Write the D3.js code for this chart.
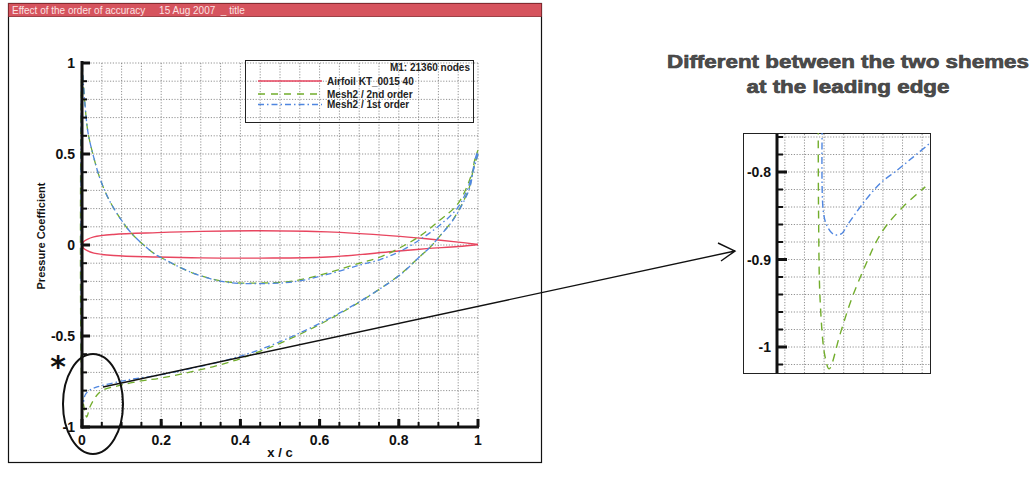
<!DOCTYPE html>
<html>
<head>
<meta charset="utf-8">
<script src="https://cdn.jsdelivr.net/npm/d3@7"></script>
<style>
  body { margin: 0; background: #fff; }
  svg text { font-family: "Liberation Sans", Arial, sans-serif; }
</style>
</head>
<body>
<svg width="1035" height="482"></svg>
<script>

// ---- data ----

var xTicks = [0, 0.2, 0.4, 0.6, 0.8, 1];
var xTickLabels = ['0', '0.2', '0.4', '0.6', '0.8', '1'];
var yTicks = [-1, -0.5, 0, 0.5, 1];
var yTickLabels = ['-1', '-0.5', '0', '0.5', '1'];

// airfoil outline (plotted on the same axes)
var foilX     = [0, 0.004, 0.012, 0.03, 0.08, 0.19, 0.30, 0.45, 0.62, 0.785, 0.87, 0.95, 1.0];
var foilUpper = [0, 0.018, 0.03, 0.045, 0.058, 0.068, 0.075, 0.078, 0.072, 0.05, 0.034, 0.016, 0.003];
var foilLower = [0, -0.018, -0.03, -0.045, -0.058, -0.066, -0.071, -0.072, -0.066, -0.036, -0.02, -0.008, 0.003];

// Mesh2 / 2nd order
var upperX2   = [0, 0.003, 0.0076, 0.015, 0.028, 0.045, 0.066, 0.096, 0.129, 0.184, 0.197, 0.28, 0.366, 0.449, 0.533, 0.619, 0.702, 0.753, 0.803, 0.854, 0.904, 0.947, 0.972, 0.987, 1.0];
var upperCp2  = [1.0, 0.90, 0.77, 0.62, 0.495, 0.368, 0.258, 0.148, 0.055, -0.05, -0.066, -0.154, -0.203, -0.209, -0.198, -0.154, -0.099, -0.066, -0.015, 0.05, 0.137, 0.22, 0.32, 0.41, 0.5];
var lowerX2   = [0, 0.006, 0.012, 0.02, 0.038, 0.053, 0.088, 0.154, 0.197, 0.28, 0.366, 0.449, 0.533, 0.619, 0.702, 0.753, 0.803, 0.854, 0.879, 0.904, 0.937, 0.962, 0.98, 0.992, 1.0];
var lowerCp2  = [-0.80, -0.90, -0.945, -0.89, -0.824, -0.797, -0.775, -0.745, -0.732, -0.695, -0.648, -0.585, -0.508, -0.415, -0.312, -0.24, -0.163, -0.062, -0.012, 0.05, 0.14, 0.235, 0.33, 0.47, 0.52];

// Mesh2 / 1st order
var upperX1   = [0, 0.003, 0.0076, 0.015, 0.028, 0.045, 0.066, 0.096, 0.129, 0.184, 0.197, 0.28, 0.366, 0.449, 0.533, 0.619, 0.702, 0.753, 0.803, 0.854, 0.904, 0.947, 0.972, 0.987, 1.0];
var upperCp1  = [1.0, 0.90, 0.77, 0.62, 0.495, 0.368, 0.258, 0.148, 0.055, -0.05, -0.066, -0.154, -0.205, -0.212, -0.203, -0.162, -0.11, -0.08, -0.035, 0.03, 0.11, 0.2, 0.3, 0.4, 0.5];
var lowerX1   = [0, 0.003, 0.008, 0.02, 0.038, 0.114, 0.197, 0.28, 0.366, 0.449, 0.533, 0.619, 0.702, 0.753, 0.803, 0.854, 0.879, 0.904, 0.937, 0.962, 0.98, 0.992, 1.0];
var lowerCp1  = [-0.76, -0.87, -0.824, -0.797, -0.78, -0.742, -0.714, -0.676, -0.632, -0.575, -0.5, -0.41, -0.31, -0.24, -0.165, -0.062, -0.012, 0.05, 0.137, 0.23, 0.32, 0.467, 0.52];

// zoom on the leading edge
var insetYTicks = [-0.8, -0.9, -1];
var insetYTickLabels = ['-0.8', '-0.9', '-1'];
var insetX2  = [0.0085, 0.0086, 0.0090, 0.0102, 0.0113, 0.0141, 0.0171, 0.0210, 0.0235, 0.0261, 0.0301, 0.0337, 0.0358];
var insetCp2 = [-0.70, -0.85, -0.947, -1.01, -1.025, -0.985, -0.944, -0.902, -0.878, -0.86, -0.84, -0.825, -0.817];
var insetX1  = [0.0097, 0.0098, 0.0108, 0.0123, 0.0133, 0.0146, 0.0159, 0.0199, 0.0243, 0.0286, 0.0327, 0.037];
var insetCp1 = [-0.70, -0.845, -0.862, -0.871, -0.872, -0.870, -0.861, -0.836, -0.813, -0.798, -0.783, -0.767];

var legendLabels = ['Airfoil KT_0015 40', 'Mesh2 / 2nd order', 'Mesh2 / 1st order'];

var RED = '#e8455f', GREEN = '#72ad2c', BLUE = '#4f86e0';


var svg = d3.select('body svg');

/*
	frame + title bar
*/
svg.append('rect')
	.attr('x', 8.5).attr('y', 3.5).attr('width', 533).attr('height', 459)
	.style('fill', 'none').style('stroke', '#111').style('stroke-width', 1.2);

svg.append('rect')
	.attr('x', 8.5).attr('y', 3.5).attr('width', 533).attr('height', 13)
	.style('fill', '#d6545e').style('stroke', '#8a2a30').style('stroke-width', 0.8);

svg.append('text')
	.attr('x', 12).attr('y', 13.8)
	.style('font-size', '10px').style('fill', '#fbe3e3')
	.style('white-space', 'pre')
	.text('Effect of the order of accuracy     15 Aug 2007  _ title');

/*
	main plot
*/
var x = d3.scaleLinear().domain([0, 1]).range([82, 478]);
var y = d3.scaleLinear().domain([-1, 1]).range([427, 63]);

var grid = svg.append('g').classed('grid', true)
	.style('stroke', '#777').style('stroke-width', 0.8).style('stroke-dasharray', '1.2,1.6');

grid.selectAll('.gx').data(d3.range(1, 21).map(function (i) { return i * 0.05; }))
	.enter().append('line')
	.attr('x1', function (d) { return x(d); }).attr('x2', function (d) { return x(d); })
	.attr('y1', y(1)).attr('y2', y(-1));

grid.selectAll('.gy').data(d3.range(-9, 11).map(function (i) { return i / 10; }))
	.enter().append('line')
	.attr('x1', x(0)).attr('x2', x(1))
	.attr('y1', function (d) { return y(d); }).attr('y2', function (d) { return y(d); });

// legend box (transparent, grid shows through)
var legend = svg.append('g').classed('legend', true);
legend.append('rect')
	.attr('x', 245.5).attr('y', 60.5).attr('width', 228).attr('height', 62)
	.style('fill', 'none').style('stroke', '#222').style('stroke-width', 1);

legend.append('text')
	.attr('x', 470).attr('y', 70.5).attr('text-anchor', 'end')
	.style('font-family', '"Liberation Sans Narrow", "Liberation Sans", sans-serif')
	.style('font-weight', 'bold').style('font-size', '10px').style('fill', '#222')
	.text('M1: 21360 nodes');

var legendStyles = [
	{ c: RED, dash: null },
	{ c: GREEN, dash: '7,6' },
	{ c: BLUE, dash: '6,3,1.5,3' }
];
var legendRows = [81, 94, 104.5];

legendLabels.forEach(function (lab, i) {
	legend.append('line')
		.attr('x1', 258).attr('x2', 322)
		.attr('y1', legendRows[i]).attr('y2', legendRows[i])
		.style('stroke', legendStyles[i].c).style('stroke-width', 1.4)
		.style('stroke-dasharray', legendStyles[i].dash);
	legend.append('text')
		.attr('x', 327).attr('y', legendRows[i] + 3.5)
		.style('font-family', '"Liberation Sans Narrow", "Liberation Sans", sans-serif')
		.style('font-weight', 'bold').style('font-size', '10px').style('fill', '#222')
		.text(lab);
});

/*
	curves
*/
var line = d3.line()
	.curve(d3.curveCatmullRom.alpha(0.5))
	.x(function (d) { return x(d[0]); })
	.y(function (d) { return y(d[1]); });

function loop(ux, ucp, lx, lcp) {
	var up = d3.zip(ux, ucp).reverse();
	return up.concat(d3.zip(lx, lcp));
}

svg.append('path').attr('d', line(d3.zip(foilX, foilUpper)))
	.style('fill', 'none').style('stroke', RED).style('stroke-width', 1.4);
svg.append('path').attr('d', line(d3.zip(foilX, foilLower)))
	.style('fill', 'none').style('stroke', RED).style('stroke-width', 1.4);

svg.append('path').attr('d', line(loop(upperX2, upperCp2, lowerX2, lowerCp2)))
	.style('fill', 'none').style('stroke', GREEN).style('stroke-width', 1.3)
	.style('stroke-dasharray', '7,5');

svg.append('path').attr('d', line(loop(upperX1, upperCp1, lowerX1, lowerCp1)))
	.style('fill', 'none').style('stroke', BLUE).style('stroke-width', 1.3)
	.style('stroke-dasharray', '6,3,1.5,3');

/*
	axes
*/
var axes = svg.append('g').style('stroke', '#111');

axes.append('line').attr('x1', x(0)).attr('x2', x(0)).attr('y1', y(1) - 2).attr('y2', y(-1) + 1.5)
	.style('stroke-width', 3);
axes.append('line').attr('x1', x(0) - 1.5).attr('x2', x(1) + 1).attr('y1', y(-1)).attr('y2', y(-1))
	.style('stroke-width', 3);

// y ticks: minor every 0.1, major every 0.5
axes.selectAll('.ytm').data(d3.range(-10, 11).map(function (i) { return i / 10; }))
	.enter().append('line')
	.attr('x1', x(0)).attr('x2', x(0) + 5)
	.attr('y1', function (d) { return y(d); }).attr('y2', function (d) { return y(d); })
	.style('stroke-width', 2);
axes.selectAll('.ytM').data(yTicks)
	.enter().append('line')
	.attr('x1', x(0)).attr('x2', x(0) + 8)
	.attr('y1', function (d) { return y(d); }).attr('y2', function (d) { return y(d); })
	.style('stroke-width', 3);

// x ticks: minor every 0.05, major every 0.2
axes.selectAll('.xtm').data(d3.range(0, 21).map(function (i) { return i * 0.05; }))
	.enter().append('line')
	.attr('x1', function (d) { return x(d); }).attr('x2', function (d) { return x(d); })
	.attr('y1', y(-1)).attr('y2', y(-1) - 5)
	.style('stroke-width', 2);
axes.selectAll('.xtM').data(xTicks)
	.enter().append('line')
	.attr('x1', function (d) { return x(d); }).attr('x2', function (d) { return x(d); })
	.attr('y1', y(-1)).attr('y2', y(-1) - 8)
	.style('stroke-width', 3);

svg.selectAll('.ylab').data(yTicks)
	.enter().append('text')
	.attr('x', 75).attr('y', function (d) { return y(d) + 5; })
	.attr('text-anchor', 'end')
	.style('font-weight', 'bold').style('font-size', '14px').style('fill', '#111')
	.text(function (d, i) { return yTickLabels[i]; });

svg.selectAll('.xlab').data(xTicks)
	.enter().append('text')
	.attr('x', function (d) { return x(d); }).attr('y', 445)
	.attr('text-anchor', 'middle')
	.style('font-weight', 'bold').style('font-size', '14px').style('fill', '#111')
	.text(function (d, i) { return xTickLabels[i]; });

svg.append('text')
	.attr('transform', 'translate(45,236) rotate(-90)')
	.attr('text-anchor', 'middle')
	.style('font-weight', 'bold').style('font-size', '11px').style('fill', '#111')
	.text('Pressure Coefficient');

svg.append('text')
	.attr('x', 280).attr('y', 457)
	.attr('text-anchor', 'middle')
	.style('font-weight', 'bold').style('font-size', '13px').style('fill', '#111')
	.text('x / c');

/*
	annotations: star, ellipse, arrow
*/
svg.append('text')
	.attr('x', 58).attr('y', 377)
	.attr('text-anchor', 'middle')
	.style('font-family', '"DejaVu Sans", sans-serif')
	.style('font-weight', 'bold').style('font-size', '30px').style('fill', '#111')
	.text('*');

svg.append('ellipse')
	.attr('cx', 93).attr('cy', 404).attr('rx', 30).attr('ry', 50)
	.style('fill', 'none').style('stroke', '#111').style('stroke-width', 2);

svg.append('path')
	.attr('d', 'M103,387 L735,251 M718,243 L735,251 L721,261')
	.style('fill', 'none').style('stroke', '#111').style('stroke-width', 1.4);

/*
	heading
*/
var heading = svg.append('g')
	.style('font-family', '"DejaVu Sans", sans-serif')
	.style('font-weight', 'bold').style('font-size', '18px')
	.style('fill', '#4d4d4d').style('stroke', '#3a3a3a').style('stroke-width', 0.6)
	.attr('text-anchor', 'middle');

heading.append('text').attr('x', 848).attr('y', 68)
	.attr('textLength', 362).attr('lengthAdjust', 'spacingAndGlyphs')
	.text('Different between the two shemes');
heading.append('text').attr('x', 848).attr('y', 93)
	.attr('textLength', 203).attr('lengthAdjust', 'spacingAndGlyphs')
	.text('at the leading edge');

/*
	inset
*/
var ix = d3.scaleLinear().domain([-0.002, 0.037]).range([777, 930]);
var iy = d3.scaleLinear().domain([-1, -0.8]).range([347, 172]);

svg.append('defs').append('clipPath').attr('id', 'insetClip')
	.append('rect').attr('x', 777).attr('y', 133).attr('width', 153).attr('height', 240);

svg.append('rect')
	.attr('x', 743.5).attr('y', 133.5).attr('width', 187).attr('height', 240)
	.style('fill', '#fff').style('stroke', '#222').style('stroke-width', 1);

var igrid = svg.append('g')
	.style('stroke', '#777').style('stroke-width', 0.8).style('stroke-dasharray', '1.2,1.6');

igrid.selectAll('line.v').data(d3.range(0, 8).map(function (i) { return i * 0.005; }))
	.enter().append('line')
	.attr('x1', function (d) { return ix(d); }).attr('x2', function (d) { return ix(d); })
	.attr('y1', 134).attr('y2', 373);

igrid.selectAll('line.h').data(d3.range(0, 14).map(function (i) { return -0.76 - i * 0.02; }))
	.enter().append('line')
	.attr('x1', 777).attr('x2', 930)
	.attr('y1', function (d) { return iy(d); }).attr('y2', function (d) { return iy(d); });

var iline = d3.line()
	.curve(d3.curveCatmullRom.alpha(0.5))
	.x(function (d) { return ix(d[0]); })
	.y(function (d) { return iy(d[1]); });

var icurves = svg.append('g').attr('clip-path', 'url(#insetClip)');
icurves.append('path').attr('d', iline(d3.zip(insetX2, insetCp2)))
	.style('fill', 'none').style('stroke', GREEN).style('stroke-width', 1.4)
	.style('stroke-dasharray', '8,6');
icurves.append('path').attr('d', iline(d3.zip(insetX1, insetCp1)))
	.style('fill', 'none').style('stroke', BLUE).style('stroke-width', 1.4)
	.style('stroke-dasharray', '7,3,1.5,3');

var iaxis = svg.append('g').style('stroke', '#111');
iaxis.append('line').attr('x1', 777).attr('x2', 777).attr('y1', 134).attr('y2', 373)
	.style('stroke-width', 3);
iaxis.selectAll('.m').data(d3.range(0, 14).map(function (i) { return -0.76 - i * 0.02; }))
	.enter().append('line')
	.attr('x1', 777).attr('x2', 783)
	.attr('y1', function (d) { return iy(d); }).attr('y2', function (d) { return iy(d); })
	.style('stroke-width', 2);
iaxis.selectAll('.M').data(insetYTicks)
	.enter().append('line')
	.attr('x1', 777).attr('x2', 787)
	.attr('y1', function (d) { return iy(d); }).attr('y2', function (d) { return iy(d); })
	.style('stroke-width', 3);

svg.selectAll('.ilab').data(insetYTicks)
	.enter().append('text')
	.attr('x', 771).attr('y', function (d) { return iy(d) + 5; })
	.attr('text-anchor', 'end')
	.style('font-weight', 'bold').style('font-size', '14px').style('fill', '#111')
	.text(function (d, i) { return insetYTickLabels[i]; });

</script>
</body>
</html>
